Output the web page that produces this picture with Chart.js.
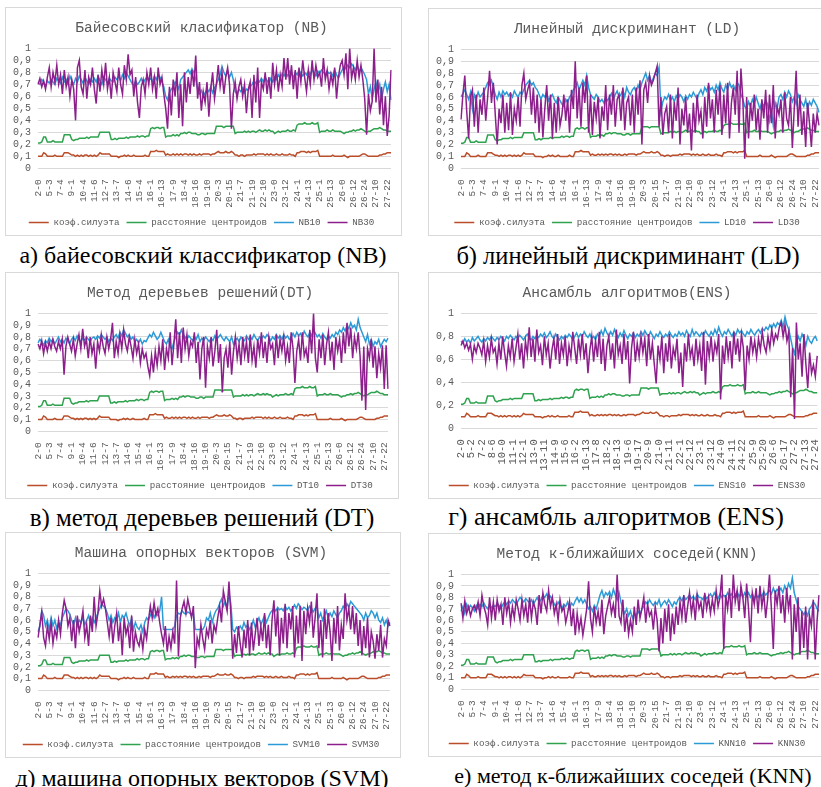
<!DOCTYPE html>
<html>
<head>
<meta charset="utf-8">
<script src="https://cdn.jsdelivr.net/npm/chart.js@4.4.1/dist/chart.umd.min.js"></script>
<style>
  body { margin: 0; width: 821px; height: 787px; background: #fff; position: relative; overflow: hidden; }
  .panel { position: absolute; border: 1px solid #d9d9d9; box-sizing: border-box; background: #fff; }
  .panel canvas { position: absolute; left: 0; top: 0; }
  .caption { position: absolute; width: 500px; font-family: 'Liberation Serif', 'Times New Roman', serif; text-align: center; color: #000; white-space: nowrap; }
</style>
</head>
<body>
<div class="panel" style="left:5px;top:7px;width:397px;height:229px"><canvas id="nb" width="397" height="229"></canvas></div>
<div class="panel" style="left:428px;top:8px;width:402px;height:228px"><canvas id="ld" width="402" height="228"></canvas></div>
<div class="panel" style="left:5px;top:272px;width:394px;height:227px"><canvas id="dt" width="394" height="227"></canvas></div>
<div class="panel" style="left:428px;top:272px;width:402px;height:227px"><canvas id="ens" width="402" height="227"></canvas></div>
<div class="panel" style="left:5px;top:532px;width:396px;height:226px"><canvas id="svm" width="396" height="226"></canvas></div>
<div class="panel" style="left:428px;top:533px;width:402px;height:224px"><canvas id="knn" width="402" height="224"></canvas></div>

<div class="caption" style="left:-47px;top:243px;font-size:24px;line-height:24px">а) байесовский классификатор (NB)</div>
<div class="caption" style="left:378px;top:243px;font-size:24.5px;line-height:25px">б) линейный дискриминант (LD)</div>
<div class="caption" style="left:-48px;top:505px;font-size:25px;line-height:25px">в) метод деревьев решений (DT)</div>
<div class="caption" style="left:366px;top:504px;font-size:26px;line-height:26px">г) ансамбль алгоритмов (ENS)</div>
<div class="caption" style="left:-48px;top:766px;font-size:24px;line-height:24px">д) машина опорных векторов (SVM)</div>
<div class="caption" style="left:383px;top:764px;font-size:22px;line-height:23px">е) метод к-ближайших соседей (KNN)</div>

<script>
// categories "k-i": number of clusters k = 2..27, cluster index i = 0..k-1
const clusterCounts = [2,3,4,5,6,7,8,9,10,11,12,13,14,15,16,17,18,19,20,21,22,23,24,25,26,27];
const categories = [];
clusterCounts.forEach(k => { for (let i = 0; i < k; i++) categories.push(k + '-' + i); });
// values are read at every 2nd category
const sampled = categories.filter((c, i) => i % 2 === 0);

const seriesNames = ['коэф.силуэта', 'расстояние центроидов'];

// shared metrics (same in all six charts)
const silhouette = [
  .10,.10,.10,.13,.12,.10, .10,.10,.10,.11,.10,.10, .10,.10,.13,.13,.13,.12, .11,.11,.10,.11,.10,.11,
  .10,.11,.11,.10,.11,.10, .11,.10,.11,.13,.12,.12, .12,.12,.12,.10,.10,.10, .10,.09,.10,.10,.11,.10,
  .11,.10,.10,.11,.10,.10, .10,.10,.10,.11,.10,.10, .14,.14,.14,.15,.14,.14, .14,.14,.11,.12,.11,.11,
  .12,.11,.12,.11,.12,.11, .12,.12,.11,.12,.11,.12, .11,.11,.12,.11,.12,.12, .12,.12,.11,.12,.12,.13,
  .14,.13,.13,.13,.14,.13, .13,.14,.13,.11,.11,.10, .11,.11,.10,.11,.11,.11, .11,.12,.11,.12,.12,.12,
  .12,.11,.12,.11,.12,.11, .11,.12,.11,.11,.12,.11, .11,.11,.12,.11,.11,.10, .13,.13,.14,.14,.14,.13,
  .14,.13,.14,.14,.14,.15, .10,.10,.10,.10,.10,.10, .10,.11,.10,.10,.10,.10, .10,.11,.10,.09,.10,.10,
  .10,.10,.10,.10,.11,.12, .12,.11,.10,.10,.10,.10, .10,.10,.11,.11,.12,.12, .13,.13,.13
];
const centroidDist = [
  .21,.21,.22,.26,.26,.22, .22,.22,.23,.22,.22,.22, .22,.22,.28,.28,.28,.28, .24,.23,.24,.24,.25,.25,
  .25,.25,.26,.25,.26,.26, .26,.26,.26,.30,.30,.30, .30,.30,.30,.24,.24,.25, .24,.25,.25,.25,.25,.26,
  .25,.26,.26,.26,.26,.27, .26,.27,.27,.26,.27,.27, .33,.34,.33,.34,.34,.33, .34,.34,.26,.27,.27,.27,
  .28,.27,.28,.27,.29,.29, .30,.29,.30,.30,.29,.29, .29,.28,.28,.29,.29,.28, .29,.29,.29,.29,.29,.35,
  .35,.35,.35,.34,.35,.35, .35,.35,.35,.29,.30,.30, .30,.30,.31,.30,.31,.30, .31,.31,.30,.31,.32,.31,
  .31,.32,.31,.32,.31,.31, .29,.30,.31,.30,.31,.31, .31,.32,.31,.31,.32,.31, .36,.37,.37,.37,.38,.37,
  .37,.37,.38,.37,.37,.38, .30,.31,.31,.31,.32,.31, .31,.32,.31,.31,.31,.31, .30,.29,.30,.30,.31,.31,
  .32,.31,.32,.32,.33,.32, .31,.30,.31,.31,.32,.33, .33,.33,.34,.33,.32,.32, .31,.31,.31
];

const nb10 = [
  .72,.70,.74,.72,.68,.73, .71,.74,.72,.70,.75,.73, .71,.76,.72,.74,.70,.77, .73,.70,.75,.72,.77,.74,
  .71,.76,.73,.70,.74,.72, .75,.72,.77,.73,.70,.76, .74,.71,.75,.73,.72,.76, .74,.77,.73,.78,.75,.80,
  .77,.74,.71,.69,.73,.70, .72,.75,.71,.74,.76,.73, .75,.72,.77,.74,.78,.76, .72,.68,.60,.57,.63,.66,
  .68,.72,.70,.66,.74,.76, .78,.80,.82,.79,.83,.80, .74,.66,.62,.65,.60,.63, .66,.64,.68,.63,.67,.70,
  .74,.78,.85,.80,.77,.81, .76,.80,.74,.64,.62,.66, .64,.67,.63,.66,.65,.68, .70,.73,.71,.74,.72,.75,
  .72,.76,.73,.71,.75,.72, .76,.74,.78,.75,.79,.77, .80,.77,.81,.79,.76,.80, .78,.82,.79,.77,.80,.78,
  .81,.78,.82,.80,.77,.81, .79,.82,.80,.78,.81,.79, .80,.77,.82,.78,.75,.79, .82,.85,.83,.86,.84,.87,
  .85,.82,.86,.80,.84,.81, .78,.74,.62,.68,.58,.66, .72,.64,.70,.58,.66,.72, .64,.70,.57
];
const nb30 = [
  .70,.75,.68,.73,.66,.76, .84,.68,.80,.72,.86,.70, .78,.62,.82,.68,.76,.60, .74,.66,.40,.84,.90,.68,
  .62,.82,.58,.76,.70,.84, .66,.54,.78,.64,.82,.70, .88,.66,.76,.58,.80,.72, .64,.84,.70,.62,.86,.74,
  .95,.78,.82,.60,.76,.55, .42,.68,.74,.62,.80,.70, .84,.66,.76,.58,.84,.70, .76,.62,.50,.33,.68,.44,
  .74,.60,.80,.42,.70,.35, .80,.55,.76,.62,.82,.68, .94,.58,.72,.48,.64,.55, .72,.43,.66,.80,.58,.70,
  .86,.68,.80,.62,.76,.84, .70,.33,.62,.72,.58,.68, .74,.60,.70,.46,.66,.72, .42,.78,.55,.84,.42,.72,
  .66,.80,.62,.76,.58,.88, .70,.82,.64,.78,.68,.92, .74,.92,.70,.86,.66,.82, .58,.84,.72,.90,.76,.64,
  .82,.70,.90,.74,.86,.76, .80,.68,.92,.74,.82,.66, .78,.70,.84,.58,.76,.86, .90,.78,.96,.66,1.0,.75,
  .84,.74,.90,.76,.86,.74, .58,.28,.62,.48,.56,1.0, .55,.74,.45,.68,.36,.60, .27,.44,.82
];

const ld10 = [
  .60,.63,.66,.62,.58,.64, .50,.62,.58,.64,.60,.62, .64,.68,.72,.70,.74,.68, .62,.58,.64,.60,.65,.62,
  .64,.61,.63,.60,.65,.62, .60,.64,.62,.66,.70,.72, .74,.70,.72,.68,.66,.62, .58,.62,.60,.64,.57,.60,
  .62,.58,.55,.60,.57,.54, .52,.58,.55,.60,.62,.66, .68,.72,.66,.70,.74,.70, .78,.68,.62,.60,.58,.62,
  .60,.56,.58,.55,.60,.57, .60,.63,.58,.62,.65,.60, .62,.66,.60,.68,.64,.62, .66,.68,.64,.70,.66,.72,
  .76,.80,.74,.78,.72,.76, .80,.78,.85,.48,.56,.60, .58,.62,.57,.60,.56,.61, .58,.62,.60,.56,.61,.58,
  .62,.60,.64,.61,.58,.63, .66,.62,.68,.65,.70,.66, .68,.64,.70,.66,.72,.67, .64,.70,.66,.72,.68,.70,
  .66,.72,.70,.62,.58,.52, .50,.56,.52,.58,.54,.60, .55,.50,.56,.52,.57,.54, .40,.48,.36,.55,.50,.60,
  .62,.58,.64,.60,.65,.62, .56,.60,.54,.62,.58,.55, .52,.58,.50,.56,.53,.58, .55,.52,.47
];
const ld30 = [
  .41,.62,.78,.48,.25,.60, .66,.35,.62,.30,.58,.45, .68,.40,.60,.82,.55,.72, .45,.20,.50,.38,.62,.30,
  .55,.32,.64,.28,.50,.40, .60,.35,.70,.80,.58,.66, .72,.45,.68,.38,.62,.30, .58,.26,.50,.70,.40,.62,
  .25,.55,.30,.60,.36,.45, .62,.40,.58,.30,.66,.50, .90,.42,.68,.35,.72,.55, .78,.30,.62,.28,.56,.42,
  .60,.25,.52,.40,.70,.32, .62,.45,.70,.35,.58,.62, .40,.68,.32,.55,.60,.36, .62,.30,.68,.45,.74,.20,
  .66,.72,.55,.78,.70,.74, .80,.86,.35,.60,.28,.46, .52,.30,.62,.25,.56,.40, .68,.20,.50,.36,.60,.30,
  .46,.15,.55,.30,.62,.40, .48,.25,.60,.35,.72,.42, .58,.30,.66,.45,.70,.28, .62,.38,.72,.25,.55,.68,
  .45,.82,.30,.84,.58,.08, .60,.25,.55,.40,.62,.32, .50,.24,.58,.42,.66,.30, .62,.38,.70,.25,.52,.45,
  .58,.30,.64,.42,.36,.60, .17,.50,.82,.35,.62,.28, .48,.18,.55,.38,.18,.46, .30,.46,.36
];

const dt10 = [
  .75,.78,.76,.73,.77,.75, .79,.76,.78,.74,.77,.80, .76,.78,.75,.79,.77,.74, .78,.80,.77,.81,.78,.76,
  .79,.77,.80,.78,.76,.79, .80,.78,.81,.79,.82,.80, .78,.80,.76,.79,.77,.80, .82,.79,.84,.81,.86,.83,
  .80,.82,.78,.80,.76,.78, .75,.78,.74,.77,.76,.79, .82,.80,.84,.81,.78,.80, .84,.80,.76,.74,.78,.72,
  .70,.76,.80,.84,.82,.86, .82,.80,.78,.81,.79,.77, .80,.78,.82,.76,.79,.77, .80,.78,.76,.79,.77,.81,
  .78,.80,.82,.79,.77,.80, .78,.76,.80,.74,.77,.79, .76,.80,.78,.77,.81,.78, .80,.78,.82,.79,.77,.80,
  .78,.81,.79,.82,.80,.77, .80,.78,.82,.79,.81,.78, .82,.79,.81,.78,.80,.83, .80,.84,.81,.83,.80,.85,
  .82,.80,.84,.81,.86,.83, .80,.82,.79,.83,.80,.78, .81,.79,.82,.80,.84,.82, .86,.84,.88,.85,.90,.87,
  .92,.88,.90,.86,.95,.88, .84,.80,.76,.82,.74,.78, .72,.76,.74,.78,.72,.75, .78,.76,.79
];
const dt30 = [
  .74,.70,.77,.66,.75,.68, .76,.70,.78,.72,.68,.76, .70,.78,.48,.72,.80,.74, .68,.78,.64,.74,.82,.70,
  .87,.72,.78,.62,.80,.66, .74,.53,.76,.68,.82,.72, .66,.80,.70,.78,.92,.62, .76,.66,.82,.70,.86,.74,
  .68,.80,.72,.62,.78,.66, .74,.58,.70,.62,.66,.55, .47,.64,.50,.68,.56,.72, .60,.78,.52,.70,.62,.84,
  .56,.74,.95,.62,.84,.58, .88,.70,.82,.64,.76,.72, .84,.58,.76,.44,.70,.80, .37,.72,.62,.80,.55,.68,
  .86,.58,.74,.33,.62,.70, .54,.76,.48,.68,.80,.62, .74,.56,.80,.64,.76,.58, .82,.60,.72,.54,.78,.66,
  .84,.62,.76,.58,.80,.70, .74,.56,.82,.62,.78,.68, .80,.60,.72,.58,.84,.70, .41,.68,.78,.60,.84,.64,
  .70,.58,.86,.66,1.0,.62, .50,.78,.62,.82,.56,.74, .84,.60,.76,.52,.80,.68, .78,.58,.84,.66,.92,.72,
  .88,.62,.80,.70,.84,.64, .26,.72,.18,.70,.62,.78, .54,.72,.45,.66,.54,.73, .36,.73,.36
];

const ens10 = [
  .76,.74,.78,.75,.77,.74, .79,.76,.78,.80,.77,.75, .78,.76,.79,.77,.80,.78, .76,.79,.77,.80,.78,.76,
  .80,.78,.81,.79,.77,.80, .78,.81,.79,.77,.80,.82, .79,.77,.80,.78,.81,.79, .82,.80,.83,.79,.81,.84,
  .80,.78,.82,.79,.77,.80, .78,.81,.79,.82,.80,.77, .80,.83,.79,.82,.80,.84, .81,.79,.82,.78,.80,.77,
  .82,.80,.85,.81,.87,.83, .80,.84,.81,.86,.82,.79, .83,.80,.85,.81,.78,.82, .80,.83,.79,.82,.80,.84,
  .81,.85,.82,.80,.84,.81, .78,.82,.80,.84,.81,.79, .82,.80,.84,.81,.79,.82, .80,.84,.81,.83,.80,.85,
  .82,.80,.86,.81,.84,.82, .80,.83,.81,.85,.82,.80, .84,.81,.86,.82,.88,.83, .80,.84,.82,.86,.83,.80,
  .84,.81,.86,.83,.85,.82, .80,.84,.82,.86,.83,.81, .84,.86,.83,.87,.85,.88, .86,.90,.87,.91,.88,.92,
  .90,.94,.88,.97,.90,.86, .78,.70,.65,.74,.80,.76, .82,.78,.72,.80,.76,.74, .78,.80,.76
];
const ens30 = [
  .72,.76,.70,.74,.68,.73, .60,.72,.66,.74,.70,.64, .76,.58,.72,.62,.78,.66, .70,.56,.74,.60,.80,.66,
  .54,.72,.62,.78,.58,.70, .82,.60,.74,.52,.76,.64, .88,.62,.78,.58,.86,.66, .72,.55,.80,.64,.74,.52,
  .68,.78,.60,.82,.56,.74, .64,.80,.54,.72,.62,.84, .70,.56,.78,.64,.82,.60, .74,.48,.68,.80,.58,.76,
  .62,.84,.56,.78,.50,.72, .80,.60,.74,.52,.86,.64, .72,.56,.82,.60,.76,.39, .70,.84,.58,.74,.62,.80,
  .66,.78,.54,.82,.60,.74, .56,.39,.72,.60,.80,.48, .74,.58,.82,.52,.70,.62, .78,.48,.66,.36,.74,.58,
  .82,.62,.70,.54,.78,.60, .72,.50,.84,.38,.76,.62, .80,.58,.74,.66,.82,.25, .72,.56,.80,.62,.76,.52,
  .84,.64,.78,.58,.82,.70, .33,.72,.60,.80,.66,.76, .62,.78,.68,.84,.72,.66, .80,.70,.86,.74,.82,.78,
  .88,.92,.80,.90,.76,.84, .27,.70,.08,.92,.60,.74, .45,.82,.56,.35,.66,.48, .55,.45,.63
];

const svm10 = [
  .50,.55,.68,.64,.55,.60, .52,.62,.55,.60,.53,.58, .56,.62,.66,.70,.68,.65, .60,.56,.62,.55,.60,.58,
  .62,.56,.60,.64,.57,.62, .58,.62,.66,.70,.74,.72, .70,.66,.60,.64,.58,.62, .60,.66,.58,.64,.62,.66,
  .60,.55,.62,.52,.58,.54, .52,.56,.50,.58,.62,.60, .64,.68,.62,.66,.64,.68, .80,.52,.52,.52,.52,.52,
  .52,.55,.64,.66,.65,.68, .66,.65,.67,.66,.64,.66, .52,.52,.52,.52,.52,.55, .62,.60,.66,.58,.64,.68,
  .70,.74,.78,.72,.76,.70, .83,.74,.52,.50,.54,.52, .55,.52,.58,.54,.56,.52, .55,.60,.54,.58,.62,.56,
  .60,.64,.58,.62,.66,.68, .70,.68,.71,.69,.70,.68, .72,.69,.71,.68,.70,.73, .70,.74,.72,.69,.71,.70,
  .68,.72,.70,.67,.70,.72, .62,.66,.60,.64,.68,.62, .66,.63,.68,.65,.62,.66, .68,.72,.70,.74,.71,.76,
  .74,.72,.70,.68,.66,.64, .60,.66,.62,.64,.68,.66, .62,.66,.60,.58,.62,.56, .60,.55,.58
];
const svm30 = [
  .45,.56,.67,.45,.38,.55, .44,.58,.40,.52,.45,.60, .48,.66,.77,.70,.55,.62, .42,.60,.36,.64,.50,.58,
  .68,.45,.56,.38,.64,.50, .80,.55,.66,.85,.72,.78, .70,.58,.46,.62,.40,.55, .66,.42,.58,.30,.62,.48,
  .55,.36,.64,.33,.50,.42, .38,.48,.35,.52,.44,.60, .72,.62,.75,.64,.70,.58, .48,.40,.55,.33,.46,.36,
  .50,.40,.94,.29,.62,.70, .76,.66,.78,.70,.62,.72, .19,.45,.38,.56,.44,.35, .52,.46,.60,.40,.56,.50,
  .62,.72,.58,.85,.76,.68, .93,.65,.27,.48,.32,.55, .40,.28,.52,.36,.60,.30, .58,.34,.48,.62,.38,.55,
  .42,.66,.36,.56,.30,.60, .77,.46,.70,.30,.62,.40, .74,.36,.66,.52,.72,.28, .64,.40,.72,.25,.68,.48,
  .70,.58,.76,.45,.62,.83, .36,.60,.28,.70,.44,.66, .50,.25,.62,.40,.72,.34, .56,.44,.83,.60,.70,.52,
  .72,.48,.66,.38,.60,.30, .55,.36,.62,.28,.50,.42, .27,.48,.34,.56,.28,.44, .38,.60,.55
];

const knn10 = [
  .68,.72,.66,.74,.70,.73, .71,.68,.73,.70,.74,.72, .75,.72,.70,.74,.71,.73, .72,.75,.73,.70,.74,.76,
  .74,.77,.75,.78,.76,.74, .77,.80,.78,.76,.79,.77, .75,.78,.74,.77,.80,.76, .78,.82,.80,.83,.79,.81,
  .78,.74,.72,.76,.73,.70, .74,.72,.76,.70,.75,.73, .77,.80,.76,.79,.75,.78, .74,.70,.72,.68,.73,.70,
  .76,.82,.86,.80,.84,.82, .85,.80,.87,.82,.78,.84, .76,.70,.66,.70,.64,.68, .62,.66,.64,.68,.65,.70,
  .72,.76,.74,.78,.75,.73, .76,.74,.78,.72,.75,.77, .74,.78,.75,.72,.76,.74, .78,.80,.77,.81,.78,.80,
  .82,.79,.81,.78,.83,.80, .80,.78,.82,.79,.81,.83, .80,.84,.81,.79,.83,.80, .82,.80,.84,.81,.83,.80,
  .82,.85,.81,.83,.80,.84, .81,.84,.80,.83,.79,.82, .80,.83,.81,.85,.82,.84, .86,.83,.88,.84,.87,.85,
  .88,.84,.90,.86,.92,.88, .97,.84,.78,.72,.70,.68, .65,.68,.64,.70,.72,.76, .74,.70,.68
];
const knn30 = [
  .75,.62,.77,.66,.72,.64, .70,.73,.68,.76,.64,.82, .72,.66,.56,.80,.62,.76, .60,.78,.68,.74,.56,.80,
  .66,.76,.58,.72,.62,.78, .70,.60,.78,.64,.74,.58, .80,.62,.76,.70,.56,.82, .66,.84,.74,.68,.86,.72,
  .80,.66,.74,.60,.78,.68, .72,.58,.66,.76,.55,.70, .47,.66,.52,.62,.47,.58, .70,.94,.62,.50,.72,.58,
  .68,.55,.78,.48,.64,.72, .80,.66,.74,.62,1.0,.64, .58,.78,.50,.66,.48,.60, .50,.72,.56,.78,.62,.70,
  .80,.58,.74,.64,.68,.52, .72,.60,.33,.62,.40,.70, .50,.74,.42,.66,.48,.72, .56,.76,.62,.82,.58,.72,
  .84,.66,.78,.60,.82,.70, .76,.62,.84,.70,.80,.66, .78,.68,.86,.72,.80,1.0, .35,.82,.70,.88,.62,1.0,
  .76,.86,.68,.90,.80,.62, .92,.70,.41,.84,.74,.88, .66,.90,.72,.84,.62,.78, 1.0,.70,.35,.86,.74,.90,
  .66,.82,.58,.88,.70,.82, .26,.74,.50,.80,.30,.68, .36,.72,.26,.64,.55,.78, .26,.60,.82
];

const COLORS = { sil: '#BA4E2A', dist: '#2EA24E', m10: '#2C9AD6', m30: '#8C1F8C' };
const TEXT = '#595959';
const MONO = "'Liberation Mono', 'Courier New', monospace";

function pts(values) {
  return values.map((v, j) => ({ x: sampled[j], y: v }));
}

function makeChart(id, title, code, d10, d30, yStep, xStep, xFont) {
  const line = (label, data, color) => ({
    label, data: pts(data), borderColor: color, backgroundColor: color,
    borderWidth: 1.5, pointRadius: 0, tension: 0, fill: false
  });
  new Chart(document.getElementById(id), {
    type: 'line',
    data: {
      labels: categories,
      // purple drawn on top, legend reversed back to the original order
      datasets: [
        line(code + '30', d30, COLORS.m30),
        line(code + '10', d10, COLORS.m10),
        line(seriesNames[1], centroidDist, COLORS.dist),
        line(seriesNames[0], silhouette, COLORS.sil)
      ]
    },
    options: {
      responsive: false,
      animation: false,
      events: [],
      layout: { padding: { left: 6, right: 12, top: 0, bottom: 0 } },
      plugins: {
        title: {
          display: true, text: title, color: TEXT,
          font: { family: MONO, size: 14.5, weight: 'normal' },
          padding: { top: 11, bottom: 12 }
        },
        legend: {
          position: 'bottom', reverse: true,
          labels: {
            usePointStyle: true, pointStyle: 'line', pointStyleWidth: 20,
            color: TEXT, font: { family: MONO, size: 9.2 }, padding: 7
          }
        },
        tooltip: { enabled: false }
      },
      scales: {
        x: {
          grid: { display: false },
          border: { display: false },
          ticks: {
            autoSkip: false, minRotation: 90, maxRotation: 90, padding: 3,
            color: TEXT, font: { family: MONO, size: xFont },
            callback: function (val, idx) { return idx % xStep === 0 ? this.getLabelForValue(val) : null; }
          }
        },
        y: {
          min: 0, max: 1,
          afterFit: s => { s.width = 26; },
          grid: { color: '#d9d9d9', drawTicks: false },
          border: { display: false },
          ticks: {
            stepSize: yStep, autoSkip: false, padding: 7, color: TEXT, font: { family: MONO, size: 10 },
            callback: v => {
              const r = Math.round(v * 10) / 10;
              return r === 0 ? '0' : r === 1 ? '1' : r.toFixed(1).replace('.', ',');
            }
          }
        }
      }
    }
  });
}

makeChart('nb', 'Байесовский класификатор (NB)', 'NB', nb10, nb30, 0.1, 12, 9.5);
makeChart('ld', 'Линейный дискриминант (LD)', 'LD', ld10, ld30, 0.1, 12, 9.5);
makeChart('dt', 'Метод деревьев решений(DT)', 'DT', dt10, dt30, 0.1, 12, 9.5);
makeChart('ens', 'Ансамбль алгоритмов(ENS)', 'ENS', ens10, ens30, 0.2, 11, 10.5);
makeChart('svm', 'Машина опорных векторов (SVM)', 'SVM', svm10, svm30, 0.1, 12, 9.5);
makeChart('knn', 'Метод к-ближайших соседей(KNN)', 'KNN', knn10, knn30, 0.1, 12, 9.5);
</script>
</body>
</html>
